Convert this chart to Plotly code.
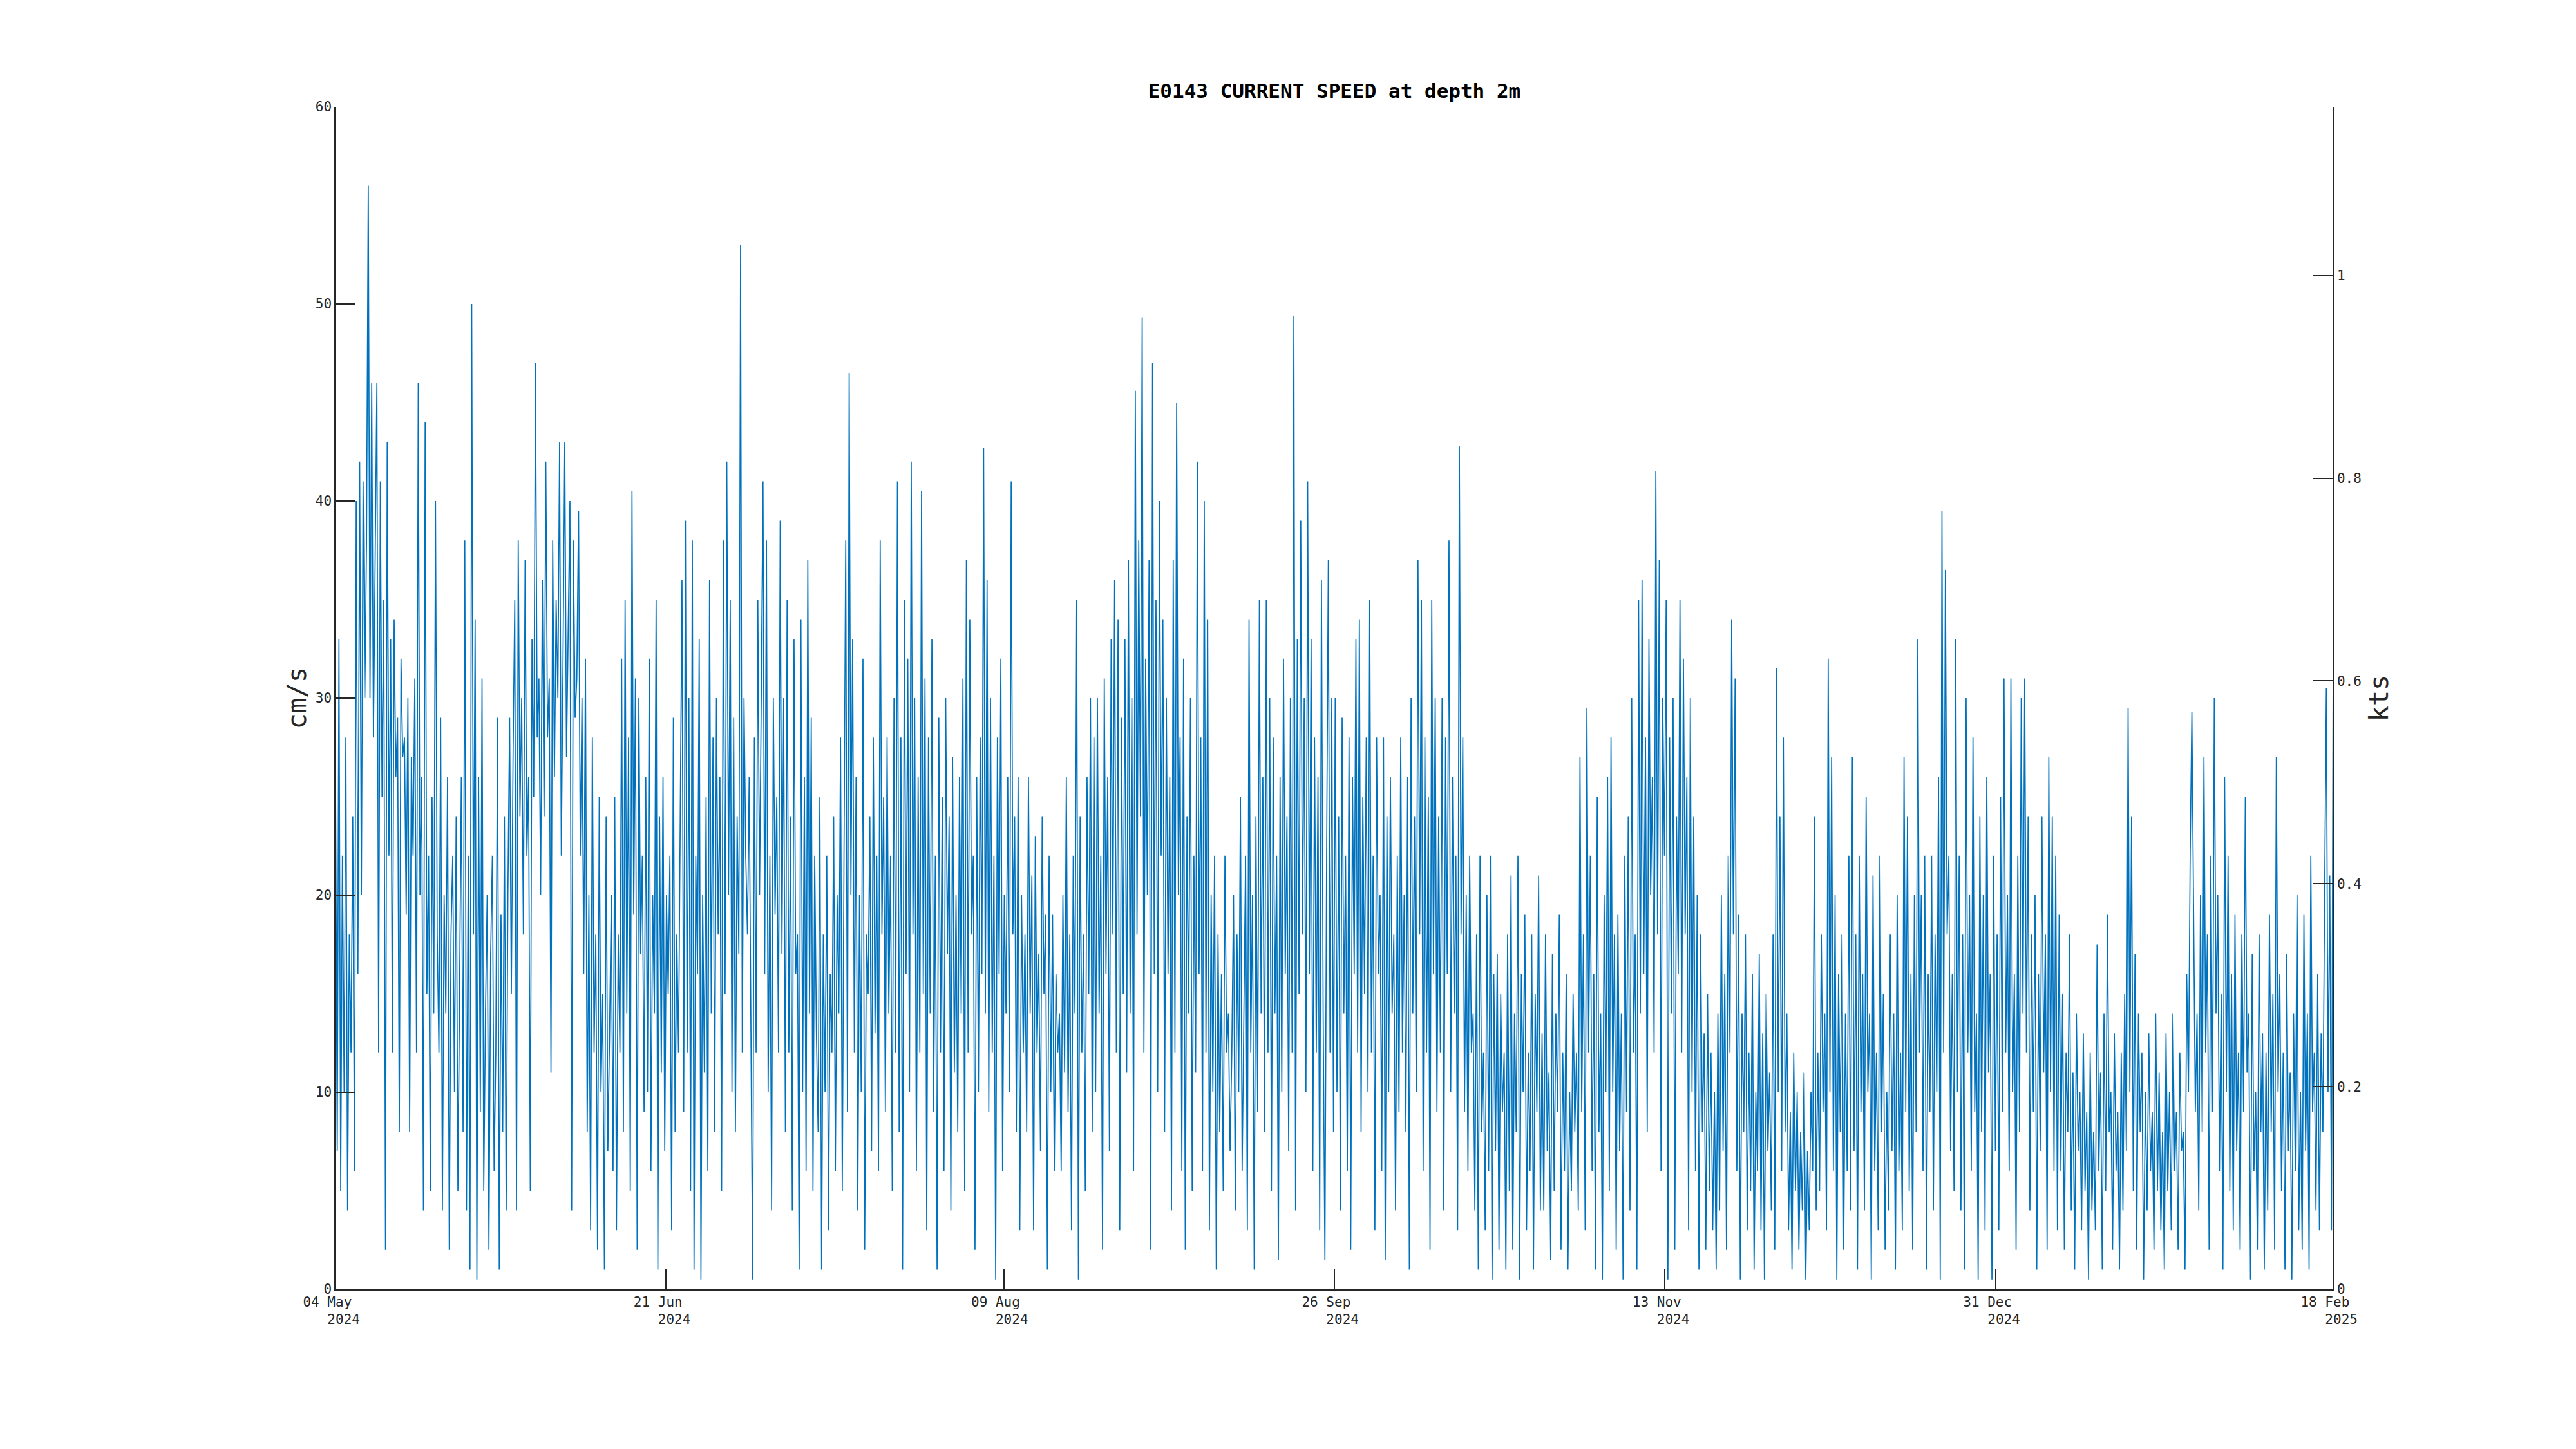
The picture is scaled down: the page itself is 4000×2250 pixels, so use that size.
import pandas as pd
import plotly.graph_objects as go

# ---- data (current speed, cm/s, ~6-hourly) ----
start_date = "2024-05-04"
end_date = "2025-02-18"

speed_cm_s = [
    26, 7, 33, 5, 22, 10, 28, 4, 18, 12, 24, 6, 40, 16, 42, 20, 41, 30, 38, 56,
    30, 46, 28, 38, 46, 12, 41, 25, 35, 2, 43, 22, 33, 12, 34, 26, 29, 8, 32, 27,
    28, 19, 30, 8, 27, 22, 31, 12, 46, 20, 26, 4, 44, 15, 22, 5, 25, 14, 40, 18,
    12, 29, 4, 20, 14, 26, 2, 18, 22, 10, 24, 5, 15, 26, 8, 38, 4, 22, 1, 50,
    18, 34, 0.5, 26, 9, 31, 5, 14, 20, 2, 17, 22, 6, 12, 29, 1, 19, 8, 24, 4,
    20, 29, 15, 27, 35, 4, 38, 24, 30, 18, 37, 22, 26, 5, 33, 25, 47, 28, 31, 20,
    36, 24, 42, 28, 31, 11, 38, 26, 35, 30, 43, 22, 32, 43, 27, 34, 40, 4, 38, 29,
    31, 39.5, 22, 30, 16, 32, 8, 20, 3, 28, 12, 18, 2, 25, 10, 15, 1, 24, 7, 13,
    20, 6, 25, 3, 18, 12, 32, 8, 35, 14, 28, 5, 40.5, 19, 31, 2, 30, 17, 22, 9,
    26, 10, 32, 6, 20, 14, 35, 1, 24, 11, 26, 7, 20, 15, 22, 3, 29, 8, 18, 12,
    24, 36, 9, 39, 12, 30, 5, 38, 1, 22, 16, 33, 0.5, 20, 11, 25, 6, 36, 14, 28,
    8, 30, 18, 26, 5, 38, 15, 42, 20, 35, 10, 29, 8, 24, 17, 53, 12, 30, 22, 18,
    26, 14, 0.5, 28, 12, 35, 20, 30, 41, 16, 38, 10, 22, 4, 30, 19, 25, 12, 39, 17,
    30, 8, 35, 12, 24, 4, 33, 16, 18, 1, 34, 10, 26, 6, 37, 14, 29, 5, 22, 13,
    8, 25, 1, 18, 10, 22, 3, 16, 12, 24, 6, 20, 14, 28, 5, 22, 38, 9, 46.5, 20,
    33, 12, 26, 4, 20, 10, 32, 2, 18, 15, 24, 7, 28, 13, 22, 6, 38, 18, 25, 9,
    28, 14, 22, 5, 30, 12, 41, 8, 28, 1, 35, 16, 32, 10, 42, 18, 30, 6, 26, 12,
    40.5, 15, 31, 3, 28, 14, 33, 9, 22, 1, 29, 12, 25, 6, 30, 17, 24, 4, 27, 11,
    20, 8, 26, 14, 31, 5, 37, 12, 34, 18, 22, 2, 26, 10, 28, 16, 42.7, 14, 36, 9,
    30, 12, 22, 0.5, 28, 16, 32, 6, 20, 14, 26, 10, 41, 18, 24, 8, 26, 3, 20, 12,
    18, 8, 26, 14, 21, 3, 23, 12, 17, 7, 24, 15, 19, 1, 22, 10, 19, 6, 16, 12,
    14, 6, 20, 11, 26, 9, 18, 3, 22, 14, 35, 0.5, 24, 12, 18, 5, 26, 15, 30, 8,
    28, 10, 30, 14, 22, 2, 31, 16, 26, 7, 33, 18, 36, 12, 34, 3, 29, 15, 33, 11,
    37, 14, 30, 6, 45.6, 18, 38, 24, 49.3, 12, 32, 20, 37, 2, 47, 16, 35, 10, 40, 22,
    34, 8, 30, 16, 26, 4, 37, 12, 45, 20, 28, 6, 32, 2, 24, 14, 30, 5, 22, 11,
    42, 16, 28, 6, 40, 12, 34, 3, 20, 10, 22, 1, 18, 8, 16, 5, 22, 12, 14, 7,
    12, 20, 4, 18, 10, 25, 6, 14, 22, 3, 34, 12, 20, 1, 24, 9, 35, 14, 26, 8,
    35, 12, 30, 5, 28, 14, 22, 1.5, 26, 10, 32, 16, 24, 7, 30, 12, 49.4, 4, 33, 15,
    39, 18, 30, 10, 41, 16, 33, 6, 28, 12, 26, 3, 36, 14, 1.5, 22, 37, 12, 30, 8,
    30, 10, 24, 4, 29, 14, 22, 6, 28, 2, 26, 16, 33, 12, 34, 8, 25, 15, 28, 10,
    35, 12, 22, 3, 28, 16, 20, 6, 28, 1.5, 24, 10, 26, 14, 18, 4, 22, 9, 28, 12,
    20, 8, 26, 1, 30, 14, 24, 10, 37, 18, 35, 6, 28, 12, 25, 2, 35, 16, 30, 9,
    24, 12, 30, 4, 28, 16, 38, 10, 26, 14, 22, 3, 42.8, 18, 28, 9, 20, 6, 22, 12,
    14, 4, 18, 1, 22, 8, 12, 3, 20, 6, 22, 0.5, 16, 7, 17, 2, 15, 9, 12, 1,
    18, 5, 21, 2, 14, 8, 22, 0.5, 16, 10, 19, 3, 12, 6, 18, 1, 15, 9, 21, 4,
    13, 4, 18, 7, 11, 1.5, 17, 5, 14, 9, 19, 2, 12, 6, 16, 1, 10, 5, 15, 8,
    12, 4, 27, 9, 18, 3, 29.5, 12, 22, 6, 16, 1, 25, 8, 14, 0.5, 20, 10, 26, 5,
    28, 10, 18, 2, 19, 7, 14, 0.5, 22, 9, 24, 4, 30, 12, 18, 1, 35, 14, 36, 16,
    28, 8, 33, 20, 26, 12, 41.5, 18, 37, 6, 30, 22, 35, 0.5, 28, 14, 30, 2, 24, 16,
    35, 12, 32, 18, 26, 3, 30, 10, 24, 6, 20, 1, 18, 8, 13, 2, 15, 5, 12, 3,
    10, 1, 14, 4, 20, 7, 16, 2, 22, 12, 34, 18, 31, 6, 19, 0.5, 14, 8, 18, 3,
    12, 5, 16, 1, 10, 6, 17, 3, 13, 0.5, 15, 7, 11, 4, 18, 2, 31.5, 10, 24, 6,
    28, 8, 14, 3, 9, 1, 12, 5, 10, 2, 8, 4, 11, 0.5, 7, 3, 10, 6, 24, 4,
    12, 5, 18, 9, 14, 3, 32, 10, 27, 6, 20, 0.5, 16, 8, 18, 2, 14, 6, 22, 4,
    27, 7, 18, 1, 22, 9, 16, 4, 25, 10, 14, 0.5, 21, 6, 12, 3, 22, 8, 15, 2,
    10, 4, 18, 7, 14, 1, 20, 6, 12, 3, 27, 9, 24, 5, 16, 2, 20, 8, 33, 12,
    20, 6, 22, 1, 16, 9, 22, 4, 18, 10, 26, 0.5, 39.5, 12, 36.5, 18, 22, 7, 16, 5,
    33, 10, 22, 4, 18, 1, 30, 12, 20, 6, 28, 9, 14, 0.5, 24, 8, 20, 3, 26, 11,
    16, 0.5, 22, 7, 18, 3, 25, 9, 31, 12, 20, 6, 31, 10, 16, 2, 22, 8, 30, 14,
    31, 12, 24, 4, 18, 9, 20, 1, 16, 7, 24, 11, 18, 2, 27, 10, 24, 6, 22, 3,
    19, 6, 15, 2, 12, 8, 18, 4, 11, 1, 14, 7, 10, 3, 13, 5, 9, 0.5, 12, 4,
    8, 3, 17.5, 6, 11, 1, 14, 5, 19, 8, 10, 2, 13, 6, 9, 1, 12, 4, 15, 7,
    29.5, 10, 24, 5, 17, 2, 14, 8, 12, 0.5, 10, 4, 13, 6, 9, 2, 14, 5, 11, 3,
    8, 1, 13, 5, 10, 3, 14, 6, 9, 2, 12, 7, 8, 1, 16, 10, 22, 29.3, 18, 9,
    14, 4, 20, 8, 27, 12, 18, 2, 22, 9, 30, 14, 20, 6, 15, 1, 26, 10, 22, 5,
    16, 3, 19, 7, 12, 2, 18, 9, 25, 11, 14, 0.5, 17, 6, 10, 2, 18, 8, 13, 1,
    12, 4, 19, 8, 15, 2, 27, 10, 16, 5, 12, 1, 17, 7, 11, 0.5, 14, 6, 20, 3,
    10, 2, 19, 7, 14, 1, 22, 9, 12, 4, 16, 3, 13, 8, 20, 30.5, 10, 21, 3, 32,
]

x_tick_dates = ["2024-05-04", "2024-06-21", "2024-08-09", "2024-09-26",
                "2024-11-13", "2024-12-31", "2025-02-18"]
x_tick_day = ["04 May", "21 Jun", "09 Aug", "26 Sep", "13 Nov", "31 Dec", "18 Feb"]
x_tick_year = ["2024", "2024", "2024", "2024", "2024", "2024", "2025"]

y_ticks_cm = [0, 10, 20, 30, 40, 50, 60]
y_ticks_kts = [0, 0.2, 0.4, 0.6, 0.8, 1]
y_tick_kts_labels = ["0", "0.2", "0.4", "0.6", "0.8", "1"]

CM_PER_KT = 51.4444
Y_MAX_CM = 60

# ---- figure ----
times = pd.date_range(start_date, end_date, periods=len(speed_cm_s))
speed_kts = [v / CM_PER_KT for v in speed_cm_s]

NB = "\u00a0"
ticktext = [f"{d}{NB}{NB}<br>{NB}{NB}{y}" for d, y in zip(x_tick_day, x_tick_year)]

MONO = "DejaVu Sans Mono"
AX = "#262626"

fig = go.Figure()
fig.add_trace(go.Scatter(
    x=times, y=speed_cm_s, mode="lines",
    line=dict(color="#0072BD", width=1.7),
    showlegend=False,
))
fig.add_trace(go.Scatter(
    x=times, y=speed_kts, mode="lines", yaxis="y2",
    line=dict(color="rgba(0,0,0,0)", width=0.1),
    hoverinfo="skip", showlegend=False,
))

fig.update_layout(
    width=4000, height=2250,
    paper_bgcolor="white", plot_bgcolor="white",
    margin=dict(l=513, r=385, t=158, b=256),
    font=dict(family=MONO, size=21, color=AX),
    title=dict(
        text="<b>E0143 CURRENT SPEED at depth 2m</b>",
        x=0.5, xref="paper", xanchor="center",
        y=1 - 133 / 2250, yanchor="middle",
        font=dict(family=MONO, size=31, color="black"),
    ),
    xaxis=dict(
        type="date",
        range=[start_date, end_date],
        tickvals=x_tick_dates, ticktext=ticktext,
        ticks="inside", ticklen=31, tickwidth=1.5, tickcolor=AX,
        showline=True, linecolor=AX, linewidth=1.5,
        showgrid=False, zeroline=False, mirror=False,
        tickfont=dict(family=MONO, size=21, color=AX),
    ),
    yaxis=dict(
        range=[0, Y_MAX_CM],
        tickvals=y_ticks_cm,
        ticks="inside", ticklen=31, tickwidth=1.5, tickcolor=AX,
        showline=True, linecolor=AX, linewidth=1.5,
        showgrid=False, zeroline=False,
        tickfont=dict(family=MONO, size=21, color=AX),
        title=dict(text="cm/s", font=dict(family=MONO, size=40, color=AX), standoff=2),
    ),
    yaxis2=dict(
        overlaying="y", side="right",
        range=[0, Y_MAX_CM / CM_PER_KT],
        tickvals=y_ticks_kts, ticktext=y_tick_kts_labels,
        ticks="inside", ticklen=31, tickwidth=1.5, tickcolor=AX,
        showline=True, linecolor=AX, linewidth=1.5,
        showgrid=False, zeroline=False,
        tickfont=dict(family=MONO, size=21, color=AX),
        title=dict(text="kts", font=dict(family=MONO, size=40, color=AX), standoff=14),
    ),
)

fig.write_html("out.html")
